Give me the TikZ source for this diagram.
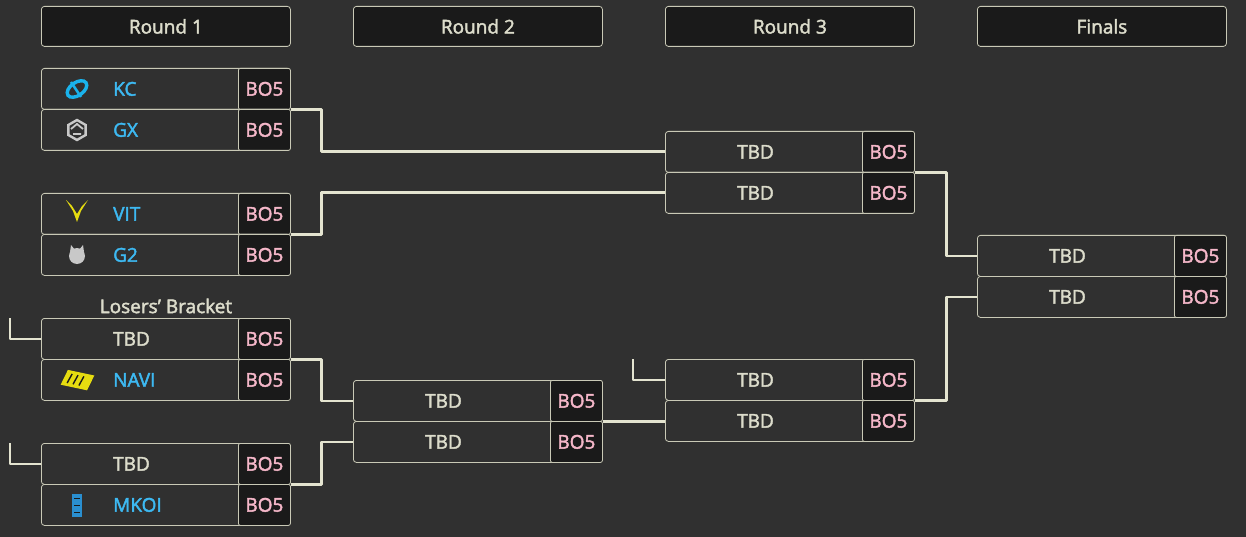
\documentclass[tikz,border=0pt]{standalone}
\usepackage{fontspec}
\setmainfont{Open Sans}[FakeBold=2.2]
\definecolor{bg}{HTML}{303030}
\definecolor{cell}{HTML}{1A1A1A}
\definecolor{rim}{HTML}{C9C9B6}
\definecolor{wire}{HTML}{E4E4D0}
\definecolor{cream}{HTML}{DCDCCB}
\definecolor{team}{HTML}{3DB9F2}
\definecolor{pinkbo}{HTML}{F5B7C9}
\definecolor{kcblue}{HTML}{1AB3EC}
\definecolor{logogrey}{HTML}{C8C8C8}
\definecolor{vityel}{HTML}{E6DC10}
\definecolor{mkblue}{HTML}{2A8FD0}

\begin{document}
\begin{tikzpicture}[x=1pt, y=-1pt, font=\fontsize{19}{22}\selectfont,
	row/.style={draw=rim, line width=0.8pt, fill=bg, rounded corners=3pt, minimum width=249pt, minimum height=41pt, anchor=north west, inner sep=0pt},
	bocell/.style={draw=rim, line width=0.8pt, fill=cell, rounded corners=2pt, minimum width=52pt, minimum height=41pt, anchor=north east, inner sep=0pt, text=pinkbo},
	head/.style={draw=rim, line width=0.8pt, fill=cell, rounded corners=3pt, minimum width=249pt, minimum height=40pt, anchor=north west, text=cream},
	link/.style={draw=wire, line width=2.8pt, line join=round}]
			\fill[bg] (0,0) rectangle (1246,537);
			\useasboundingbox (0,0) rectangle (1246,537);
			% headers
			\foreach \n/\x/\t in {h1/41/Round 1, h2/353/Round 2, h3/665/Round 3, h4/977/Finals}
				\node[head] (\n) at (\x,6) {\t};
			% match rows
			\foreach \n/\x/\y/\t/\c in {r1m1a/41/68/KC/team, r1m1b/41/109/GX/team, r1m2a/41/193/VIT/team, r1m2b/41/234/G2/team,
				r1m3a/41/318/TBD/cream, r1m3b/41/359/NAVI/team, r1m4a/41/443/TBD/cream, r1m4b/41/484/MKOI/team,
				r2m1a/353/380/TBD/cream, r2m1b/353/421/TBD/cream,
				r3m1a/665/131/TBD/cream, r3m1b/665/172/TBD/cream, r3m2a/665/359/TBD/cream, r3m2b/665/400/TBD/cream,
				r4m1a/977/235/TBD/cream, r4m1b/977/276/TBD/cream}
			{
				\node[row] (\n) at (\x,\y) {};
				\node[bocell] (\n-bo) at (\n.north east) {BO5};
				\node[text=\c, anchor=west, inner sep=0pt] (\n-t) at ([xshift=72pt]\n.west) {\t};
			}
			\node[text=cream] (lb) at (166,306) {Losers' Bracket};
			% connectors
			\draw[link] (r1m1a.south east) -- ++(31,0) |- (r3m1a.west);
			\draw[link] (r1m2a.south east) -- ++(31,0) |- (r3m1b.west);
			\draw[link] (r1m3a.south east) -- ++(31,0) |- (r2m1a.west);
			\draw[link] (r1m4a.south east) -- ++(31,0) |- (r2m1b.west);
			\draw[link] (r2m1a.south east) -- (r2m1a.south east -| r3m2b.west);
			\draw[link] (r3m1a.south east) -- ++(32,0) |- (r4m1a.west);
			\draw[link] (r3m2a.south east) -- ++(32,0) |- (r4m1b.west);
			\coordinate (l1) at (10,318);
			\coordinate (l2) at (10,443);
			\coordinate (l3) at (633,359);
			\draw[link] (l1) |- (r1m3a.west);
			\draw[link] (l2) |- (r1m4a.west);
			\draw[link] (l3) |- (r3m2a.west);
			% logos
			\draw[kcblue, line width=3.4pt, rotate around={35:(77,89)}] (77,89) ellipse (11pt and 6.5pt);
			\draw[kcblue, line width=2.6pt] (71,82) -- (81,97);
			\draw[logogrey, line width=2.4pt] (77,130) +(30:10) -- +(90:10) -- +(150:10) -- +(210:10) -- +(270:10) -- +(330:10) -- cycle;
			\draw[logogrey, line width=1.8pt] (71,129) -- (77,124) -- (83,129) (73,134) -- (81,134);
			\fill[vityel] (66,200) -- (73,211) -- (77,222) -- (81,211) -- (88,200) -- (82,206) -- (77,214) -- (72,206) -- cycle;
			\fill[logogrey] (77,256) circle (8pt);
			\fill[logogrey] (70,252) -- (71,245) -- (75,250) -- cycle (84,252) -- (83,245) -- (79,250) -- cycle;
			\fill[vityel, rotate around={-12:(77,380)}] (62,388) -- (66,372) -- (93,372) -- (89,388) -- cycle;
			\draw[cell, line width=1.4pt, rotate around={-12:(77,380)}] (68,385) -- (71,375) (74,385) -- (77,375) (80,385) -- (83,375);
			\fill[mkblue] (72,494) rectangle (82,517);
			\draw[cell, line width=0.8pt] (74,498) -- (80,498) (74,505) -- (80,505) (74,512) -- (80,512);
			\end{tikzpicture}
\end{document}
